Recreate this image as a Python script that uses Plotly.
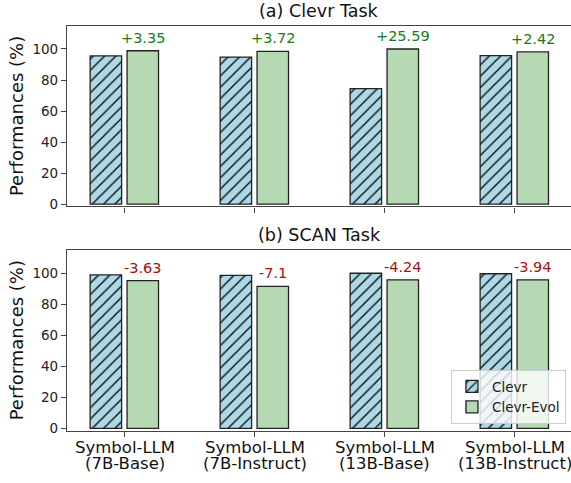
import plotly.graph_objects as go

categories = ["7B-Base", "7B-Instruct", "13B-Base", "13B-Instruct"]
tick_line1 = ["Symbol-LLM", "Symbol-LLM", "Symbol-LLM", "Symbol-LLM"]
tick_line2 = ["(7B-Base)", "(7B-Instruct)", "(13B-Base)", "(13B-Instruct)"]

clevr_task_clevr = [95.5, 94.78, 74.41, 95.68]
clevr_task_evol = [98.85, 98.5, 100.0, 98.1]
clevr_task_delta = ["+3.35", "+3.72", "+25.59", "+2.42"]

scan_task_clevr = [98.9, 98.7, 100.0, 99.7]
scan_task_evol = [95.27, 91.6, 95.76, 95.76]
scan_task_delta = ["-3.63", "-7.1", "-4.24", "-3.94"]

series_names = ["Clevr", "Clevr-Evol"]
panel_titles = ["(a) Clevr Task", "(b) SCAN Task"]
y_ticks = [0, 20, 40, 60, 80, 100]

FONT = "DejaVu Sans"
BLUE = "#add8e6"
GREEN = "#b6d8b3"
EDGE = "#222222"
AXIS = "#444444"

fig = go.Figure()

panels = [
    ("x", "y", clevr_task_clevr, clevr_task_evol, clevr_task_delta, "#1a7a1a"),
    ("x2", "y2", scan_task_clevr, scan_task_evol, scan_task_delta, "#a50e0e"),
]

W = 0.242
for i, (xa, ya, cv, ev, dl, tcol) in enumerate(panels):
    fig.add_trace(go.Bar(
        x=categories, y=cv, xaxis=xa, yaxis=ya, name=series_names[0],
        width=W, offset=-0.266, showlegend=(i == 1), legendrank=1,
        marker=dict(color=BLUE, line=dict(color=EDGE, width=1.3),
                    pattern=dict(shape="/", fgcolor="#111111", bgcolor=BLUE,
                                 size=8, solidity=0.18)),
    ))
    fig.add_trace(go.Bar(
        x=categories, y=ev, xaxis=xa, yaxis=ya, name=series_names[1],
        width=W, offset=0.018, showlegend=(i == 1), legendrank=2,
        marker=dict(color=GREEN, line=dict(color=EDGE, width=1.3)),
    ))
    for c, v, t in zip(categories, ev, dl):
        fig.add_annotation(x=c, y=v, xref=xa, yref=ya, text=t, showarrow=False,
                           xanchor="center", yanchor="bottom", xshift=18, yshift=3,
                           font=dict(family=FONT, size=14.5, color=tcol))

top_dom = [0.5725, 0.9468]
bot_dom = [0.1083, 0.4824]

axis_common = dict(showline=True, linecolor=AXIS, linewidth=1.2, ticks="outside",
                   ticklen=5, tickcolor=AXIS, showgrid=False, zeroline=False,
                   automargin=False)

fig.update_layout(
    template="none",
    width=571, height=483,
    margin=dict(l=67, r=0, t=0, b=0, autoexpand=False),
    paper_bgcolor="white", plot_bgcolor="white",
    barmode="overlay",
    font=dict(family=FONT, size=13.5, color="#222222"),
    xaxis=dict(domain=[0, 1], anchor="y", range=[-0.444, 3.433], mirror=True,
               showticklabels=False, **axis_common),
    yaxis=dict(domain=top_dom, anchor="x", range=[-1.5, 115], tickvals=y_ticks,
               tickfont=dict(size=13.5), **axis_common),
    xaxis2=dict(domain=[0, 1], anchor="y2", range=[-0.444, 3.433], mirror=True,
                showticklabels=False, **axis_common),
    yaxis2=dict(domain=bot_dom, anchor="x2", range=[-1.5, 115], tickvals=y_ticks,
                tickfont=dict(size=13.5), **axis_common),
    legend=dict(x=0.99, y=0.122, xanchor="right", yanchor="bottom",
                bgcolor="rgba(255,255,255,0.8)", bordercolor="#cccccc", borderwidth=1,
                font=dict(family=FONT, size=13.5, color="#222222"),
                traceorder="normal"),
)

for dom, title in zip([top_dom, bot_dom], panel_titles):
    fig.add_annotation(x=0.5, y=dom[1], xref="paper", yref="paper", text=title,
                       showarrow=False, xanchor="center", yanchor="bottom", yshift=3,
                       font=dict(family=FONT, size=17.5, color="#111111"))
    fig.add_annotation(x=0, y=(dom[0] + dom[1]) / 2, xref="paper", yref="paper",
                       text="Performances (%)", textangle=-90, showarrow=False,
                       xanchor="center", yanchor="middle", xshift=-51,
                       font=dict(family=FONT, size=18, color="#111111"))

for c, l1, l2 in zip(categories, tick_line1, tick_line2):
    fig.add_annotation(x=c, y=(483 - 447) / 483, xref="x2", yref="paper", text=l1,
                       showarrow=False, xanchor="center", yanchor="middle",
                       font=dict(family=FONT, size=16.5, color="#111111"))
    fig.add_annotation(x=c, y=(483 - 463.5) / 483, xref="x2", yref="paper", text=l2,
                       showarrow=False, xanchor="center", yanchor="middle",
                       font=dict(family=FONT, size=16.5, color="#111111"))

fig.write_html("out.html", config={"displayModeBar": False},
               post_script="document.body.style.margin='0';document.body.style.overflow='hidden';")
